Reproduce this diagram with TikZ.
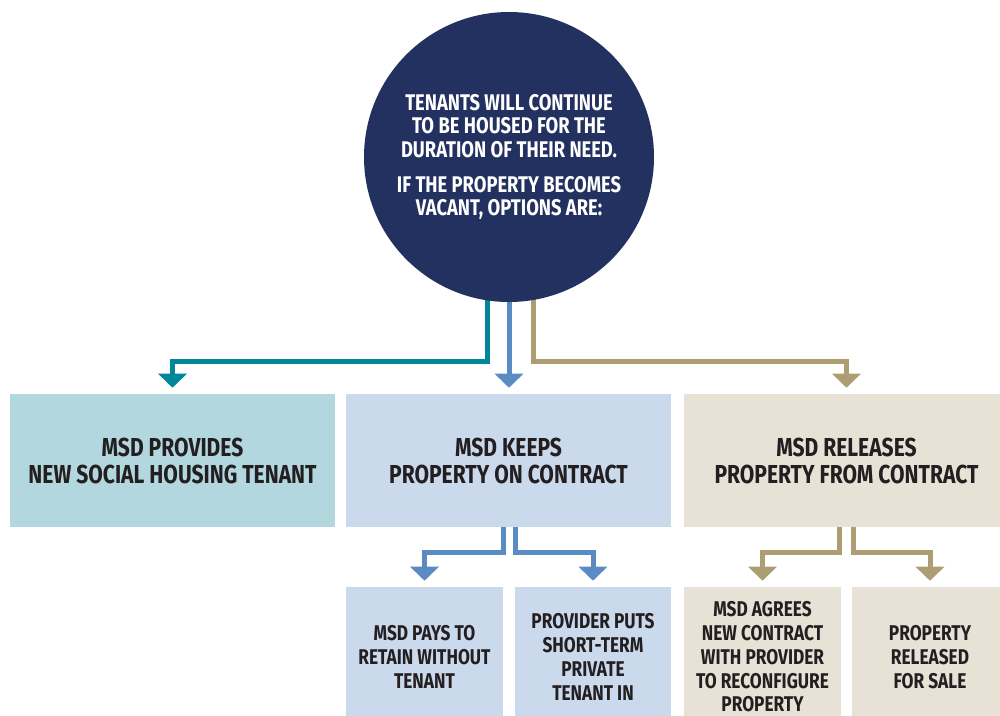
\documentclass[tikz,border=0pt]{standalone}
\usepackage{fontspec}
\setmainfont{Fira Sans}[FakeStretch=0.81]
\usetikzlibrary{arrows.meta,backgrounds}
\definecolor{navy}{HTML}{233160}
\definecolor{cteal}{HTML}{00889A}
\definecolor{cblue}{HTML}{5A8BC3}
\definecolor{cgold}{HTML}{AC9E72}
\definecolor{fteal}{HTML}{B3D7DF}
\definecolor{fblue}{HTML}{CBD9EC}
\definecolor{fgold}{HTML}{E8E2D6}
\definecolor{textdark}{HTML}{231F20}
\begin{document}
\begin{tikzpicture}[x=0.75pt,y=-0.75pt,
  bigbox/.style={inner sep=0pt, align=center, text=textdark,
    font=\bfseries\fontsize{19.5}{20.25}\selectfont,
    minimum width=243.75pt, minimum height=99.75pt},
  smallbox/.style={inner sep=0pt, align=center, text=textdark,
    font=\bfseries\fontsize{16}{17.8}\selectfont,
    minimum width=117.5pt, minimum height=105pt},
  conn/.style={line width=3.75pt, -{Triangle[width=21pt,length=10.5pt]}, shorten >=4.5pt}
]
\useasboundingbox (0,0) rectangle (1000,715);
% circle
\node[circle, fill=navy, minimum size=217.5pt, inner sep=0pt, align=center, text=white,
  font=\bfseries\fontsize{17}{17.6}\selectfont] (c) at (509,157)
  {TENANTS WILL CONTINUE\\TO BE HOUSED FOR THE\\DURATION OF THEIR NEED.\\[8.6pt]IF THE PROPERTY BECOMES\\VACANT, OPTIONS ARE:};
% main boxes
\node[bigbox, fill=fteal] (b1) at (172.5,460.5) {MSD PROVIDES\\NEW SOCIAL HOUSING TENANT};
\node[bigbox, fill=fblue] (b2) at (508.5,460.5) {MSD KEEPS\\PROPERTY ON CONTRACT};
\node[bigbox, fill=fgold] (b3) at (846.5,460.5) {MSD RELEASES\\PROPERTY FROM CONTRACT};
% lower boxes
\node[smallbox, fill=fblue] (b2a) at (424.5,657) {MSD PAYS TO\\RETAIN WITHOUT\\TENANT};
\node[smallbox, fill=fblue] (b2b) at (593,657) {PROVIDER PUTS\\SHORT-TERM\\PRIVATE\\TENANT IN};
\node[smallbox, fill=fgold] (b3a) at (762.5,657) {MSD AGREES\\NEW CONTRACT\\WITH PROVIDER\\TO RECONFIGURE\\PROPERTY};
\node[smallbox, fill=fgold] (b3b) at (930,657) {PROPERTY\\RELEASED\\FOR SALE};
% connectors
\begin{scope}[on background layer]
\draw[conn, cteal] ([xshift=-16.5pt]c.center) |- ([yshift=24pt]b1.north) -- (b1.north);
\draw[conn, cblue] (c.center) -- (c.center |- b2.north);
\draw[conn, cgold] ([xshift=18pt]c.center) |- ([yshift=24pt]b3.north) -- (b3.north);
\draw[conn, cblue] ([xshift=-4.1pt]b2.south) |- ([yshift=25.5pt]b2a.north) -- (b2a.north);
\draw[conn, cblue] ([xshift=4.9pt]b2.south) |- ([yshift=25.5pt]b2b.north) -- (b2b.north);
\draw[conn, cgold] ([xshift=-4.9pt]b3.south) |- ([yshift=25.5pt]b3a.north) -- (b3a.north);
\draw[conn, cgold] ([xshift=4.9pt]b3.south) |- ([yshift=25.5pt]b3b.north) -- (b3b.north);
\end{scope}
\end{tikzpicture}
\end{document}
